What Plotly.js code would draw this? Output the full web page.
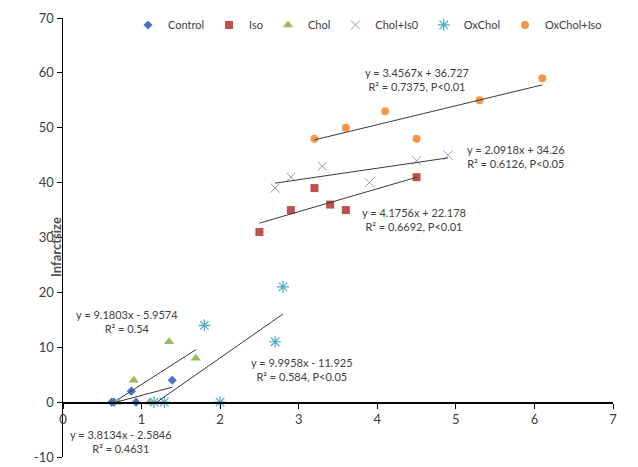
<!DOCTYPE html>
<html>
<head>
<meta charset="utf-8">
<script src="https://cdn.plot.ly/plotly-3.0.1.min.js"></script>
<style>html,body{margin:0;padding:0;background:#fff;}#chart{width:638px;height:467px;}</style>
</head>
<body>
<div id="chart"></div>
<script>
// ---- data ----
const seriesNames = ["Control", "Iso", "Chol", "Chol+Is0", "OxChol", "OxChol+Iso"];

const controlX = [0.62, 0.65, 0.87, 0.93, 1.39];
const controlY = [0, 0, 2, 0, 4];

const isoX = [2.5, 2.9, 3.2, 3.4, 3.6, 4.5];
const isoY = [31, 35, 39, 36, 35, 41];

const cholX = [0.70, 0.90, 1.10, 1.35, 1.69];
const cholY = [0, 4, 0, 11, 8];

const cholIsoX = [2.7, 2.9, 3.3, 3.9, 4.5, 4.9];
const cholIsoY = [39, 41, 43, 40, 44, 45];

const oxCholX = [1.16, 1.29, 1.8, 2.0, 2.7, 2.8];
const oxCholY = [0, 0, 14, 0, 11, 21];

const oxCholIsoX = [3.2, 3.6, 4.1, 4.5, 5.3, 6.1];
const oxCholIsoY = [48, 50, 53, 48, 55, 59];

// trend line coefficients (from the printed equations)
const slopes     = [3.8134, 4.1756, 9.1803, 2.0918, 9.9958, 3.4567];
const intercepts = [-2.5846, 22.178, -5.9574, 34.26, -11.925, 36.727];
const eqLabels = [
  "y = 3.8134x - 2.5846<br>R² = 0.4631",
  "y = 4.1756x + 22.178<br>R² = 0.6692, P<0.01",
  "y = 9.1803x - 5.9574<br>R² = 0.54",
  "y = 2.0918x + 34.26<br>R² = 0.6126, P<0.05",
  "y = 9.9958x - 11.925<br>R² = 0.584, P<0.05",
  "y = 3.4567x + 36.727<br>R² = 0.7375, P<0.01"
];
const xTicks = [0, 1, 2, 3, 4, 5, 6, 7];
const yTicks = [-10, 0, 10, 20, 30, 40, 50, 60, 70];

// ---- styling ----
const xsAll = [controlX, isoX, cholX, cholIsoX, oxCholX, oxCholIsoX];
const ysAll = [controlY, isoY, cholY, cholIsoY, oxCholY, oxCholIsoY];
const markerStyles = [
  {symbol: "diamond", size: 7, color: "#4472C4"},
  {symbol: "square", size: 8, color: "#C0504D"},
  {symbol: "triangle-up", size: 9, color: "#9BBB59"},
  {symbol: "x-thin-open", size: 9, color: "#9F93C6", line: {color: "#9F93C6", width: 1}},
  {symbol: "asterisk-open", size: 10, color: "#4BACC6", line: {color: "#4BACC6", width: 1.2}},
  {symbol: "circle", size: 8, color: "#F79646"}
];
// label anchor positions (data coordinates)
const labelPos = [[0.744, -7.2], [4.47, 33.3], [0.816, 14.7], [5.77, 44.7], [3.036, 5.97], [4.50, 58.8]];

const traces = [];
const fontFam = "Lato, 'Open Sans', 'DejaVu Sans', sans-serif";
for (let i = 0; i < seriesNames.length; i++) {
  traces.push({
    type: "scatter", mode: "markers", name: seriesNames[i],
    x: xsAll[i], y: ysAll[i],
    marker: markerStyles[i], cliponaxis: false
  });
}
for (let i = 0; i < seriesNames.length; i++) {
  const x0 = Math.min(...xsAll[i]), x1 = Math.max(...xsAll[i]);
  traces.push({
    type: "scatter", mode: "lines", showlegend: false, hoverinfo: "skip",
    x: [x0, x1], y: [slopes[i] * x0 + intercepts[i], slopes[i] * x1 + intercepts[i]],
    line: {color: "#3a3a3a", width: 1}
  });
}

const annotations = eqLabels.map((t, i) => ({
  text: t, x: labelPos[i][0], y: labelPos[i][1], xref: "x", yref: "y",
  showarrow: false, align: "center",
  font: {family: fontFam, size: 11, color: "#404040"}
}));
annotations.push({
  text: "<b>Infarctsize</b>", textangle: -90, xref: "paper", yref: "paper",
  x: (46 - 63) / 550, y: (457 - 245) / 443, showarrow: false,
  font: {family: fontFam, size: 13, color: "#505050"}
});

const layout = {
  width: 638, height: 467,
  margin: {l: 63, r: 25, t: 14, b: 10},
  paper_bgcolor: "#fff", plot_bgcolor: "#fff",
  showlegend: true,
  legend: {
    orientation: "h", x: (128 - 63) / 550, xanchor: "left",
    y: 1 + (14 - 21) / 443, yanchor: "middle",
    font: {family: fontFam, size: 11, color: "#404040"},
    bgcolor: "rgba(0,0,0,0)"
  },
  xaxis: {
    range: [0, 7], tickvals: xTicks, ticktext: xTicks.map(String),
    anchor: "free", position: 10 / 80,
    showline: true, linecolor: "#000", linewidth: 1.5,
    ticks: "outside", ticklen: 5, tickcolor: "#000", tickwidth: 1,
    showgrid: false, zeroline: false,
    tickfont: {family: fontFam, size: 13, color: "#404040"}
  },
  yaxis: {
    range: [-10, 70], tickvals: yTicks, ticktext: yTicks.map(String),
    showline: true, linecolor: "#000", linewidth: 1.5,
    ticks: "outside", ticklen: 5, tickcolor: "#000", tickwidth: 1,
    showgrid: false, zeroline: false,
    tickfont: {family: fontFam, size: 13, color: "#404040"}
  },
  annotations: annotations
};

Plotly.newPlot("chart", traces, layout, {displayModeBar: false, staticPlot: true});
</script>
</body>
</html>
